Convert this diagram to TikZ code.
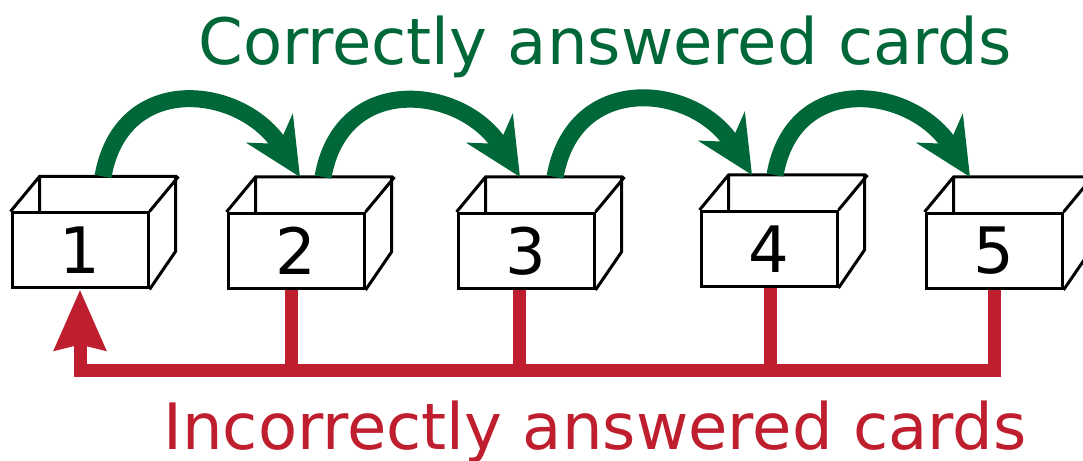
\documentclass[tikz,border=0pt]{standalone}
\usepackage{fontspec}
\setmainfont{DejaVu Sans}
\usepackage{tikz}
\usetikzlibrary{positioning,arrows.meta}
\definecolor{rightgreen}{RGB}{0,104,56}
\definecolor{wrongred}{RGB}{190,30,45}
\tikzset{
	x=1pt, y=1pt, % picture units are pixels of the target
	cardbox/.style={draw, line width=3pt, fill=white, minimum width=136pt, minimum height=75pt, inner sep=0pt, font=\fontsize{64}{64}\selectfont}, % front face of a box
	boxline/.style={line width=3pt, line join=miter}, % top and side of a box
	rightmove/.style={draw=rightgreen, line width=17pt, -{Stealth[length=57pt,width=54pt,inset=18pt]}, looseness=1.4}, % green arcs
	wrongmove/.style={draw=wrongred, line width=13pt, line join=miter}, % red return line
	label/.style={font=\fontsize{64}{72}\selectfont, anchor=base},
}

\begin{document}
\begin{tikzpicture}
	\useasboundingbox (0,0) rectangle (1083,460);
	\clip (0,0) rectangle (1083,460);
	%Nodes
	\node[cardbox] (b1) at (80,209.5) {1};
	\node[cardbox] (b2) at (296,209) {2};
	\node[cardbox] (b3) at (526,209) {3};
	\node[cardbox] (b4) at (769,211) {4};
	\node[cardbox] (b5) at (994,209) {5};

	\node[label, text=rightgreen] (right) at (605,395) {Correctly answered cards};
	\node[label, text=wrongred] (wrong) at (595,10) {Incorrectly answered cards};

	% open tops and sides of the boxes
	\foreach \b in {b1,b2,b3,b4,b5}
		\draw[boxline] (\b.north west) -- ++(29,35) -- ++(136,0) -- ++(0,-75) -- (\b.south east)
			(\b.north east) -- ++(29,35)
			([xshift=29pt]\b.north west) -- ++(0,35);

	%Lines
	\foreach \a/\b/\s/\e in {b1/b2/23/4, b2/b3/27/-6, b3/b4/29/-17, b4/b5/6/-24}
		\draw[rightmove] ([xshift=\s pt,yshift=35pt]\a.north) to[out=80, in=122] ([xshift=\e pt,yshift=35pt]\b.north);

	\coordinate (corner) at (80,89);
	\draw[wrongmove, -{Stealth[length=60pt,width=50pt,inset=5pt]}] (b5.south) |- (corner) -- (b1.south);
	\foreach \b/\d in {b2/-5, b3/-7, b4/1}
		\draw[wrongmove] ([xshift=\d pt]\b.south) -- ([xshift=\d pt]\b.south |- corner);
\end{tikzpicture}
\end{document}
